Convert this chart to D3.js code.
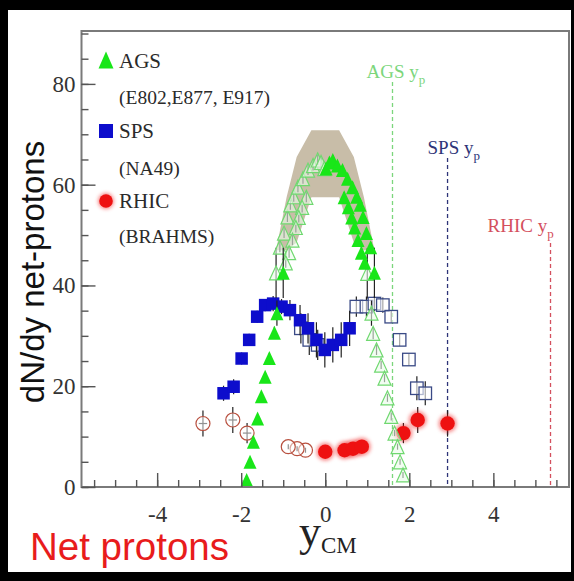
<!DOCTYPE html>
<html>
<head>
<meta charset="utf-8">
<script src="https://cdn.jsdelivr.net/npm/d3@7"></script>
<style>
  html, body { margin: 0; padding: 0; background: #000; }
  svg { display: block; }
</style>
</head>
<body>
<svg id="chart" width="574" height="581"></svg>
<script>
// ---- data: [rapidity y_CM, dN/dy, vertical error] ----
// AGS Au+Au (E802, E877, E917) measured points
const agsMeasured = [
  [-1.87, 1.4, 0.6], [-1.79, 5.0, 0.6], [-1.71, 9.0, 0.6], [-1.61, 13.6, 0.8],
  [-1.52, 18.0, 0.8], [-1.43, 21.9, 0.8], [-1.33, 25.6, 1.0], [-1.21, 30.6, 1.2],
  [-1.15, 34.5, 2.5], [-1.00, 42.5, 5.0],
  [0.02, 63.2, 1.0], [0.10, 64.4, 1.0], [0.18, 64.9, 1.0], [0.29, 63.8, 1.0],
  [0.41, 62.9, 1.0], [0.53, 61.2, 1.0], [0.65, 59.5, 1.0], [0.75, 57.6, 1.0],
  [0.83, 56.0, 1.0], [0.90, 53.6, 1.0], [0.98, 50.4, 1.0], [1.08, 47.6, 1.0],
  [1.17, 42.5, 5.0],
  [0.45, 57.5, 1.0], [0.55, 55.5, 1.0], [0.63, 53.5, 1.0], [0.70, 51.5, 1.0],
  [0.78, 49.0, 1.0], [0.86, 46.5, 1.0], [0.94, 44.5, 1.0]
];
// AGS points reflected about mid-rapidity
const agsReflected = [
  [-1.17, 42.5, 5.0], [-1.08, 47.6, 1.0], [-0.98, 50.4, 1.0], [-0.90, 53.6, 1.0],
  [-0.83, 56.0, 1.0], [-0.75, 57.6, 1.0], [-0.65, 59.5, 1.0], [-0.53, 61.2, 1.0],
  [-0.41, 62.9, 1.0], [-0.29, 63.8, 1.0], [-0.18, 64.9, 1.0], [-0.10, 64.4, 1.0],
  [-0.02, 63.2, 1.0],
  [-0.45, 57.5, 1.0], [-0.55, 55.5, 1.0], [-0.63, 53.5, 1.0], [-0.70, 51.5, 1.0],
  [-0.78, 49.0, 1.0], [-0.86, 46.5, 1.0], [-0.94, 44.5, 1.0],
  [1.00, 42.4, 5.0], [1.10, 34.5, 2.5], [1.14, 30.5, 1.2], [1.22, 27.2, 1.0],
  [1.33, 24.2, 0.8], [1.41, 21.6, 0.8], [1.48, 17.7, 0.8], [1.57, 14.0, 0.8],
  [1.65, 10.7, 0.6], [1.72, 8.0, 0.6], [1.78, 5.0, 0.6], [1.85, 2.4, 0.6]
];
// systematic band around the AGS peak
const bandY    = [-1.17, -0.92, -0.68, -0.33, 0.33, 0.68, 0.92, 1.17];
const bandHigh = [47.0, 57.5, 65.5, 70.8, 70.8, 65.5, 57.5, 47.0];
const bandLow  = [47.0, 47.0, 48.5, 57.5, 57.5, 48.5, 47.0, 47.0];

// SPS Pb+Pb (NA49)
const spsMeasured = [
  [-2.42, 18.6, 1.5], [-2.18, 19.9, 1.5], [-1.99, 25.5, 1.2], [-1.81, 29.2, 1.2],
  [-1.62, 33.8, 1.2], [-1.43, 36.1, 1.2], [-1.24, 36.4, 1.5], [-1.04, 35.8, 1.5],
  [-0.84, 35.1, 2.0], [-0.60, 33.1, 3.0], [-0.41, 31.5, 3.0], [-0.21, 29.2, 3.5],
  [-0.01, 27.2, 3.5], [0.18, 28.2, 3.5], [0.38, 29.2, 3.5], [0.58, 31.5, 3.5]
];
const spsReflected = [
  [-0.58, 31.5, 3.0], [-0.38, 29.2, 3.0], [-0.18, 28.2, 3.0],
  [0.74, 35.8, 2.0], [0.98, 35.8, 2.0], [1.17, 36.4, 1.5], [1.37, 36.1, 1.5],
  [1.57, 33.8, 1.2], [1.77, 29.2, 1.2], [1.99, 25.3, 1.2], [2.18, 19.6, 2.4],
  [2.38, 18.6, 2.4]
];

// RHIC Au+Au (BRAHMS): [y, dN/dy, vertical error, horizontal half-width]
const rhicMeasured = [
  [0.00, 7.0, 0.5, 0], [0.46, 7.3, 0.5, 0], [0.66, 7.6, 0.5, 0], [0.87, 8.0, 0.5, 0],
  [1.86, 10.7, 2.0, 0.1], [2.20, 13.3, 2.6, 0.1], [2.91, 12.6, 2.6, 0.1]
];
const rhicReflected = [
  [-0.47, 7.3, 0.5, 0], [-0.67, 7.6, 0.5, 0], [-0.88, 8.0, 0.5, 0],
  [-1.86, 10.7, 2.0, 0.1], [-2.20, 13.3, 2.6, 0.1], [-2.91, 12.6, 2.6, 0.1]
];

// beam rapidities
const beamNames = ["AGS", "SPS", "RHIC"];
const beamRapidity = [1.60, 2.91, 5.36];
const beamLineTop = [82, 158, 243];

// axes
const xMajorTicks = [-4, -2, 0, 2, 4];
const xMinorTicks = d3.range(-5.5, 5.51, 0.5);
const yMajorTicks = [0, 20, 40, 60, 80];
const yMinorTicks = d3.range(0, 90.1, 5);

// legend
const legendTitles = ["AGS", "SPS", "RHIC"];
const legendSubtitles = ["(E802,E877, E917)", "(NA49)", "(BRAHMS)"];

// ---- drawing ----
const svg = d3.select("#chart");
const plot = { left: 81.5, right: 569, top: 31, bottom: 487 };

svg.append("rect").attr("x", 8).attr("y", 10).attr("width", 563).attr("height", 562)
  .attr("fill", "#fff");

const x = d3.scaleLinear().domain([-5.8, 5.8]).range([plot.left, plot.right]);
const y = d3.scaleLinear().domain([0, 90.5]).range([plot.bottom, plot.top]);

const defs = svg.append("defs");
const glow = defs.append("filter").attr("id", "glow")
  .attr("x", "-50%").attr("y", "-50%").attr("width", "200%").attr("height", "200%");
glow.append("feGaussianBlur").attr("stdDeviation", 2.2);

const colors = {
  agsFill: "#19e619", agsOpen: "#6fd86f",
  spsFill: "#0d0dcc", spsOpen: "#3a4a86",
  rhicFill: "#ee1111", rhicOpen: "#b8503f",
  band: "#c8bda8", err: "#222"
};

function triPath(w, h) {
  return `M${-w / 2},${h / 2}L0,${-h / 2}L${w / 2},${h / 2}Z`;
}

// systematic band
const bandData = bandY.map((v, i) => [v, bandLow[i], bandHigh[i]]);
svg.append("path").datum(bandData)
  .attr("fill", colors.band)
  .attr("d", d3.area().x(d => x(d[0])).y0(d => y(d[1])).y1(d => y(d[2])));

// beam rapidity markers
const beamColors = ["#7cd67c", "#2e3478", "#d4505e"];
beamRapidity.forEach((v, i) => {
  svg.append("line")
    .attr("x1", x(v)).attr("x2", x(v))
    .attr("y1", beamLineTop[i]).attr("y2", y(0))
    .attr("stroke", beamColors[i]).attr("stroke-width", 1.3)
    .attr("stroke-dasharray", "4,3");
});
const beamLabelOffset = [-26, -20, -63];
const beamLabelBase = [78, 154, 232];
beamRapidity.forEach((v, i) => {
  const t = svg.append("text")
    .attr("x", x(v) + beamLabelOffset[i]).attr("y", beamLabelBase[i])
    .attr("font-family", "Liberation Serif, Times New Roman, serif")
    .attr("font-size", 19).attr("fill", beamColors[i]);
  t.append("tspan").text(beamNames[i] + " y");
  t.append("tspan").attr("dy", 6).attr("font-size", 13).text("p");
});

function errorBars(data, color) {
  const g = svg.append("g").attr("stroke", color).attr("stroke-width", 1.2);
  data.forEach(d => {
    g.append("line").attr("x1", x(d[0])).attr("x2", x(d[0]))
      .attr("y1", y(d[1] - d[2])).attr("y2", y(d[1] + d[2]));
    if (d[3]) {
      g.append("line").attr("x1", x(d[0] - d[3])).attr("x2", x(d[0] + d[3]))
        .attr("y1", y(d[1])).attr("y2", y(d[1]));
    }
  });
}

const sq = 12.5;
// SPS
errorBars(spsReflected, colors.err);
svg.append("g").selectAll("rect").data(spsReflected).join("rect")
  .attr("x", d => x(d[0]) - sq / 2).attr("y", d => y(d[1]) - sq / 2)
  .attr("width", sq).attr("height", sq)
  .attr("fill", "#fff").attr("fill-opacity", 0.6)
  .attr("stroke", colors.spsOpen).attr("stroke-width", 1.3);
errorBars(spsMeasured, colors.err);
svg.append("g").selectAll("rect").data(spsMeasured).join("rect")
  .attr("x", d => x(d[0]) - sq / 2).attr("y", d => y(d[1]) - sq / 2)
  .attr("width", sq).attr("height", sq)
  .attr("fill", colors.spsFill);

// RHIC
errorBars(rhicReflected, colors.err);
svg.append("g").selectAll("circle").data(rhicReflected).join("circle")
  .attr("cx", d => x(d[0])).attr("cy", d => y(d[1])).attr("r", 7)
  .attr("fill", "#fff").attr("fill-opacity", 0.5)
  .attr("stroke", colors.rhicOpen).attr("stroke-width", 1.2);
errorBars(rhicMeasured, colors.err);
svg.append("g").selectAll("circle").data(rhicMeasured).join("circle")
  .attr("cx", d => x(d[0])).attr("cy", d => y(d[1])).attr("r", 8.5)
  .attr("fill", colors.rhicFill).attr("opacity", 0.6).attr("filter", "url(#glow)");
svg.append("g").selectAll("circle").data(rhicMeasured).join("circle")
  .attr("cx", d => x(d[0])).attr("cy", d => y(d[1])).attr("r", 7.2)
  .attr("fill", colors.rhicFill);

// AGS
const tw = 13, th = 14;
errorBars(agsReflected, colors.err);
svg.append("g").selectAll("path").data(agsReflected).join("path")
  .attr("transform", d => `translate(${x(d[0])},${y(d[1])})`)
  .attr("d", triPath(tw, th))
  .attr("fill", "#eafbea").attr("fill-opacity", 0.6)
  .attr("stroke", colors.agsOpen).attr("stroke-width", 1.2);
errorBars(agsMeasured, colors.err);
svg.append("g").selectAll("path").data(agsMeasured).join("path")
  .attr("transform", d => `translate(${x(d[0])},${y(d[1])})`)
  .attr("d", triPath(tw, th))
  .attr("fill", colors.agsFill);

// frame
svg.append("rect")
  .attr("x", plot.left).attr("y", plot.top)
  .attr("width", plot.right - plot.left).attr("height", plot.bottom - plot.top)
  .attr("fill", "none").attr("stroke", "#7a7a7a").attr("stroke-width", 2);

// axes with inward ticks
const tickFont = "Liberation Serif, Times New Roman, serif";
const xAxis = svg.append("g").attr("transform", `translate(0,${plot.bottom})`)
  .call(d3.axisBottom(x).tickValues(xMajorTicks).tickSizeInner(-14).tickSizeOuter(0)
    .tickPadding(19).tickFormat(d3.format("d")));
svg.append("g").attr("transform", `translate(0,${plot.bottom})`)
  .call(d3.axisBottom(x).tickValues(xMinorTicks).tickSizeInner(-7).tickSizeOuter(0)
    .tickFormat(""));
const yAxis = svg.append("g").attr("transform", `translate(${plot.left},0)`)
  .call(d3.axisLeft(y).tickValues(yMajorTicks).tickSizeInner(-14).tickSizeOuter(0)
    .tickPadding(6).tickFormat(d3.format("d")));
svg.append("g").attr("transform", `translate(${plot.left},0)`)
  .call(d3.axisLeft(y).tickValues(yMinorTicks).tickSizeInner(-7).tickSizeOuter(0)
    .tickFormat(""));
svg.selectAll(".domain").remove();
svg.selectAll(".tick line").attr("stroke", "#555").attr("stroke-width", 1.4);
svg.selectAll(".tick text").attr("font-family", tickFont).attr("font-size", 23)
  .attr("fill", "#333");
// minus sign as a plain hyphen
xAxis.selectAll(".tick text").text(d => String(d));

// legend
const legendX = 106;
const legendRowY = [60, 131, 201];
const legendBase = [68, 138, 208];
const legendSubBase = [104, 175, 243];
svg.append("path").attr("transform", `translate(${legendX},${legendRowY[0]})`)
  .attr("d", triPath(15, 17)).attr("fill", colors.agsFill);
svg.append("rect").attr("x", legendX - 7).attr("y", legendRowY[1] - 7)
  .attr("width", 14).attr("height", 14).attr("fill", colors.spsFill);
svg.append("circle").attr("cx", legendX).attr("cy", legendRowY[2]).attr("r", 7.5)
  .attr("fill", colors.rhicFill).attr("opacity", 0.6).attr("filter", "url(#glow)");
svg.append("circle").attr("cx", legendX).attr("cy", legendRowY[2]).attr("r", 6.8)
  .attr("fill", colors.rhicFill);
legendTitles.forEach((t, i) => {
  svg.append("text").attr("x", 119).attr("y", legendBase[i])
    .attr("font-family", tickFont).attr("font-size", 21).attr("fill", "#2a2a2a").text(t);
  svg.append("text").attr("x", 119).attr("y", legendSubBase[i])
    .attr("font-family", tickFont).attr("font-size", 19.5).attr("fill", "#2a2a2a")
    .text(legendSubtitles[i]);
});

// axis titles
svg.append("text")
  .attr("transform", "translate(44,272) rotate(-90)")
  .attr("text-anchor", "middle")
  .attr("font-family", "Liberation Sans, Arial, sans-serif")
  .attr("font-size", 33).attr("fill", "#111")
  .text("dN/dy net-protons");
const xt = svg.append("text").attr("x", 299).attr("y", 546)
  .attr("font-family", tickFont).attr("fill", "#222");
xt.append("tspan").attr("font-size", 44).text("y");
xt.append("tspan").attr("font-size", 23).attr("dy", 7).text("CM");

svg.append("text").attr("x", 30).attr("y", 560)
  .attr("font-family", "Liberation Sans, Arial, sans-serif")
  .attr("font-size", 38.5).attr("fill", "#e81c1c")
  .text("Net protons");
</script>
</body>
</html>
